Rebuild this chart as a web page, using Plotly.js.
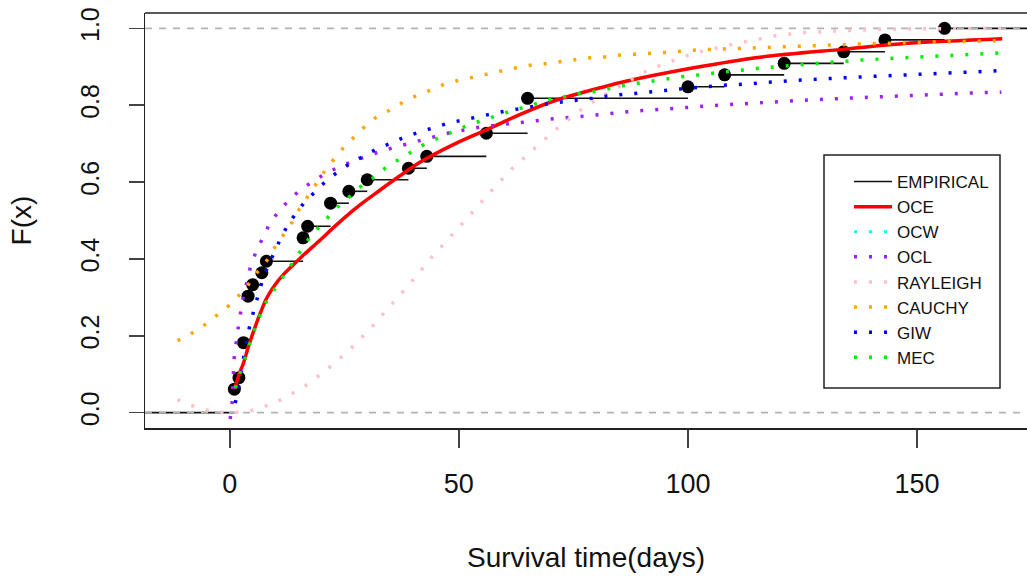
<!DOCTYPE html>
<html>
<head>
<meta charset="utf-8">
<script src="https://cdn.plot.ly/plotly-3.0.1.min.js"></script>
<style>html,body{margin:0;padding:0;background:#fff;}#chart{width:1027px;height:579px;}</style>
</head>
<body>
<div id="chart"></div>
<script>
// ---- Empirical CDF (knots and step heights) ----
const knots = [1, 2, 3, 4, 5, 7, 8, 16, 17, 22, 26, 30, 39, 43, 56, 65, 100, 108, 121, 134, 143, 156];
const ecdfF = [0.061, 0.091, 0.182, 0.303, 0.333, 0.364, 0.394, 0.455, 0.485, 0.545, 0.576, 0.606, 0.636, 0.667, 0.727, 0.818, 0.848, 0.879, 0.909, 0.939, 0.970, 1.000];

// ---- Fitted CDF curves ----
const oceX = [1.1, 1.6, 2.2, 3.0, 4.1, 5.6, 6.7, 8.1, 9.9, 11.7, 13.9, 16.1, 19.8, 23.4, 27.8, 32.9, 37.0, 41.6, 48.9, 56.2, 63.4, 70.7, 80.9, 86.7, 101.3, 115.8, 134.2, 148, 168.6];
const oceF = [0.062, 0.082, 0.105, 0.129, 0.173, 0.225, 0.26, 0.299, 0.333, 0.359, 0.385, 0.41, 0.45, 0.49, 0.535, 0.58, 0.615, 0.652, 0.698, 0.737, 0.776, 0.811, 0.8455, 0.863, 0.8975, 0.925, 0.946, 0.961, 0.973];

const ocwX = [1.1, 1.6, 2.2, 3.0, 4.1, 5.6, 6.7, 8.1, 9.9, 11.7, 13.9, 16.1, 19.8, 23.4, 27.8, 32.9, 37.0, 41.6, 48.9, 56.2, 63.4, 70.7, 80.9, 86.7, 101.3, 115.8, 134.2, 148, 168.6];
const ocwF = [0.062, 0.082, 0.105, 0.129, 0.173, 0.225, 0.26, 0.299, 0.333, 0.359, 0.385, 0.41, 0.45, 0.49, 0.535, 0.58, 0.615, 0.652, 0.698, 0.737, 0.776, 0.811, 0.8455, 0.863, 0.8975, 0.925, 0.946, 0.961, 0.973];

const oclX = [0.1, 0.5, 0.8, 1.0, 1.9, 2.4, 3.0, 3.9, 4.6, 5.9, 7.4, 8.8, 10.9, 13.1, 15.5, 18.3, 21.1, 24, 26.9, 30.0, 32.9, 36.1, 39.4, 42.5, 45.2, 48.5, 51.8, 55.1, 58.2, 61.4, 64.5, 67.6, 70.9, 74.1, 77.2, 80.5, 83.7, 86.9, 90, 93.3, 96.5, 99.7, 102.9, 106.2, 109.3, 112.4, 115.6, 125.3, 138.0, 150.8, 163.6, 168.4];
const oclF = [-0.0165, 0.025, 0.103, 0.147, 0.225, 0.266, 0.307, 0.346, 0.385, 0.423, 0.459, 0.494, 0.527, 0.555, 0.581, 0.603, 0.624, 0.64, 0.6545, 0.6675, 0.680, 0.691, 0.702, 0.711, 0.721, 0.730, 0.737, 0.744, 0.748, 0.7526, 0.756, 0.760, 0.765, 0.768, 0.772, 0.776, 0.779, 0.783, 0.786, 0.789, 0.792, 0.794, 0.797, 0.799, 0.802, 0.804, 0.8065, 0.813, 0.820, 0.827, 0.8325, 0.834];

const rayX = [-11.4, -8.5, -5.3, -2.2, 1, 4.3, 7.4, 10.3, 13.2, 16.1, 21.2, 26.2, 30.8, 35.2, 39.6, 43.6, 48.3, 52.7, 57.0, 61.6, 66.5, 71.4, 76.5, 79.3, 83, 87, 90.3, 93.6, 96.5, 99.5, 102.6, 105.6, 108.9, 115.1, 118.7, 124.9, 131.1, 140, 150, 168.4];
const rayF = [0.034, 0.019, 0.008, 0.001, 0.0005, 0.004, 0.015, 0.028, 0.047, 0.066, 0.112, 0.164, 0.2205, 0.281, 0.339, 0.398, 0.459, 0.518, 0.576, 0.635, 0.6875, 0.739, 0.787, 0.809, 0.835, 0.862, 0.885, 0.902, 0.915, 0.928, 0.939, 0.948, 0.9565, 0.971, 0.980, 0.989, 0.993, 0.997, 0.999, 1.0];

const cauX = [-11.4, -8.5, -5.9, -3.2, -0.6, 1.7, 3.9, 5.9, 8.0, 9.9, 11.7, 13.6, 15.2, 17.0, 18.8, 20.7, 22.7, 24.8, 27.2, 29.6, 32.1, 34.9, 37.8, 40.8, 43.8, 46.7, 49.7, 52.9, 56.0, 59.2, 62.3, 65.5, 68.7, 71.8, 75.1, 78.3, 81.5, 84.7, 87.8, 91.1, 94.2, 97.4, 100.5, 103.8, 110.4, 113.5, 126.4, 139.1, 152.2, 165.3, 168.4];
const cauF = [0.1875, 0.205, 0.225, 0.249, 0.274, 0.301, 0.331, 0.364, 0.394, 0.4315, 0.461, 0.4955, 0.530, 0.563, 0.596, 0.628, 0.659, 0.689, 0.718, 0.746, 0.770, 0.787, 0.808, 0.825, 0.839, 0.854, 0.864, 0.873, 0.882, 0.889, 0.897, 0.904, 0.908, 0.912, 0.918, 0.923, 0.925, 0.930, 0.932, 0.935, 0.937, 0.939, 0.943, 0.9445, 0.948, 0.950, 0.954, 0.960, 0.964, 0.967, 0.968];

const giwX = [1.2, 2.0, 2.8, 3.7, 4.3, 5.2, 6.1, 7.0, 8.3, 9.6, 11.0, 12.6, 14.5, 16.5, 18.9, 21.2, 24.0, 26.7, 29.6, 32.3, 35.4, 38.3, 41.4, 44.5, 47.6, 50.7, 53.8, 56.9, 60.2, 63.3, 66.3, 69.6, 72.8, 75.9, 79.1, 82.4, 85.5, 88.8, 91.8, 95.1, 98.2, 101.4, 104.7, 107.8, 111.1, 114.2, 123.8, 136.6, 149.5, 162.3, 168.4];
const giwF = [0.025, 0.07, 0.13, 0.186, 0.223, 0.264, 0.303, 0.339, 0.38, 0.416, 0.4505, 0.487, 0.520, 0.550, 0.579, 0.605, 0.630, 0.652, 0.670, 0.6875, 0.702, 0.718, 0.730, 0.741, 0.753, 0.761, 0.769, 0.778, 0.785, 0.791, 0.798, 0.804, 0.809, 0.813, 0.818, 0.824, 0.828, 0.8316, 0.835, 0.8385, 0.842, 0.846, 0.850, 0.852, 0.854, 0.857, 0.865, 0.873, 0.879, 0.886, 0.890];

const mecX = [1.2, 2.2, 3.0, 4.1, 5.6, 6.7, 8.1, 9.9, 11.7, 13.6, 15.5, 17.4, 19.6, 21.8, 24.1, 26.7, 29.1, 31.8, 34.3, 37.2, 40.0, 42.7, 45.6, 48.6, 51.6, 54.7, 57.8, 60.9, 63.8, 67, 70.0, 73, 76, 79.4, 82.7, 85.9, 89.0, 92.2, 95.5, 98.5, 101.8, 104.9, 108, 111.5, 114.5, 124.2, 136.8, 149.7, 162.6, 168.4];
const mecF = [0.064, 0.103, 0.127, 0.17, 0.222, 0.256, 0.292, 0.323, 0.3576, 0.39, 0.423, 0.455, 0.485, 0.513, 0.542, 0.568, 0.594, 0.615, 0.640, 0.661, 0.680, 0.700, 0.715, 0.731, 0.746, 0.759, 0.772, 0.783, 0.793, 0.804, 0.815, 0.822, 0.83, 0.835, 0.844, 0.851, 0.857, 0.863, 0.869, 0.874, 0.878, 0.883, 0.887, 0.891, 0.895, 0.905, 0.917, 0.925, 0.932, 0.936];

const xTicks = [0, 50, 100, 150];
const yTicks = [0.0, 0.2, 0.4, 0.6, 0.8, 1.0];
const yTickText = ['0.0', '0.2', '0.4', '0.6', '0.8', '1.0'];
const refLevels = [0, 1];

const X_RANGE = [-18.5, 174.0];
const Y_RANGE = [-0.04, 1.04];

// ---- build the step-function segments from knots ----
const segX = [], segY = [];
segX.push(X_RANGE[0], knots[0], null); segY.push(0, 0, null);
for (let i = 0; i < knots.length; i++) {
  const xEnd = (i + 1 < knots.length) ? knots[i + 1] : X_RANGE[1];
  segX.push(knots[i], xEnd, null);
  segY.push(ecdfF[i], ecdfF[i], null);
}
const refX = [], refY = [];
refLevels.forEach(l => { refX.push(X_RANGE[0], X_RANGE[1], null); refY.push(l, l, null); });

const FONT = 'Liberation Sans, Arial, sans-serif';
const DOT = '3px,12px';
function dotted(name, x, y, color, rank) {
  return {type: 'scatter', mode: 'lines', name: name, x: x, y: y,
          line: {color: color, width: 3.5, dash: DOT}, legendrank: rank};
}

const traces = [
  {type: 'scatter', mode: 'lines', name: 'EMPIRICAL', x: segX, y: segY,
   line: {color: '#111', width: 1.6}, legendrank: 1, connectgaps: false},
  {type: 'scatter', mode: 'lines', x: refX, y: refY, showlegend: false, hoverinfo: 'skip',
   line: {color: '#b3b3b3', width: 1.6, dash: '7px,7px'}},
  {type: 'scatter', mode: 'markers', x: knots, y: ecdfF, showlegend: false,
   marker: {color: '#000', size: 13}},
  {type: 'scatter', mode: 'lines', name: 'OCW', x: ocwX, y: ocwF,
   line: {color: 'cyan', width: 3, dash: DOT, shape: 'spline', smoothing: 1}, legendrank: 3},
  {type: 'scatter', mode: 'lines', name: 'OCE', x: oceX, y: oceF,
   line: {color: '#ff0000', width: 3.5, shape: 'spline', smoothing: 1}, legendrank: 2},
  dotted('OCL', oclX, oclF, '#a020f0', 4),
  dotted('RAYLEIGH', rayX, rayF, '#ffc0cb', 5),
  dotted('CAUCHY', cauX, cauF, '#ffa500', 6),
  dotted('GIW', giwX, giwF, '#0000ff', 7),
  dotted('MEC', mecX, mecF, '#00ee00', 8)
];

const W = 1027, H = 579;
const M = {l: 145, r: 0, t: 13, b: 151};
const pw = W - M.l - M.r, ph = H - M.t - M.b;
const px2x = p => (p - M.l) / pw;
const py2y = p => (H - M.b - p) / ph;

const layout = {
  width: W, height: H,
  margin: M,
  paper_bgcolor: '#fff', plot_bgcolor: '#fff',
  font: {family: FONT, color: '#111'},
  showlegend: true,
  legend: {
    x: px2x(849), xanchor: 'left', y: py2y(164), yanchor: 'top',
    bgcolor: 'rgba(0,0,0,0)', borderwidth: 0,
    font: {family: FONT, size: 17, color: '#111'},
    itemwidth: 38, tracegroupgap: 0
  },
  xaxis: {
    range: X_RANGE, showgrid: false, zeroline: false,
    showline: true, linecolor: '#222', linewidth: 1.5,
    ticks: 'outside', ticklen: 18, tickwidth: 1.5, tickcolor: '#444',
    tickvals: xTicks, ticktext: xTicks.map(String),
    tickfont: {family: FONT, size: 27, color: '#111'},
    ticklabelstandoff: 13,
    title: {text: 'Survival time(days)', font: {family: FONT, size: 28, color: '#111'}, standoff: 49},
    automargin: false
  },
  yaxis: {
    range: Y_RANGE, showgrid: false, zeroline: false,
    showline: true, linecolor: '#222', linewidth: 1.5,
    ticks: 'outside', ticklen: 15, tickwidth: 1.5, tickcolor: '#444',
    tickvals: yTicks, ticktext: yTickText, tickangle: -90,
    tickfont: {family: FONT, size: 25, color: '#111'},
    ticklabelstandoff: 20,
    title: {text: 'F(x)', font: {family: FONT, size: 28, color: '#111'}, standoff: 35},
    automargin: false
  },
  shapes: [
    {type: 'line', xref: 'paper', yref: 'paper', x0: 0, x1: 1, y0: 1, y1: 1,
     line: {color: '#222', width: 1.5}},
    {type: 'rect', xref: 'paper', yref: 'paper',
     x0: px2x(824), x1: px2x(1000), y0: py2y(388), y1: py2y(155),
     line: {color: '#222', width: 1.5}, fillcolor: 'rgba(0,0,0,0)', layer: 'above'}
  ]
};

Plotly.newPlot('chart', traces, layout, {displayModeBar: false, staticPlot: true});
</script>
</body>
</html>
